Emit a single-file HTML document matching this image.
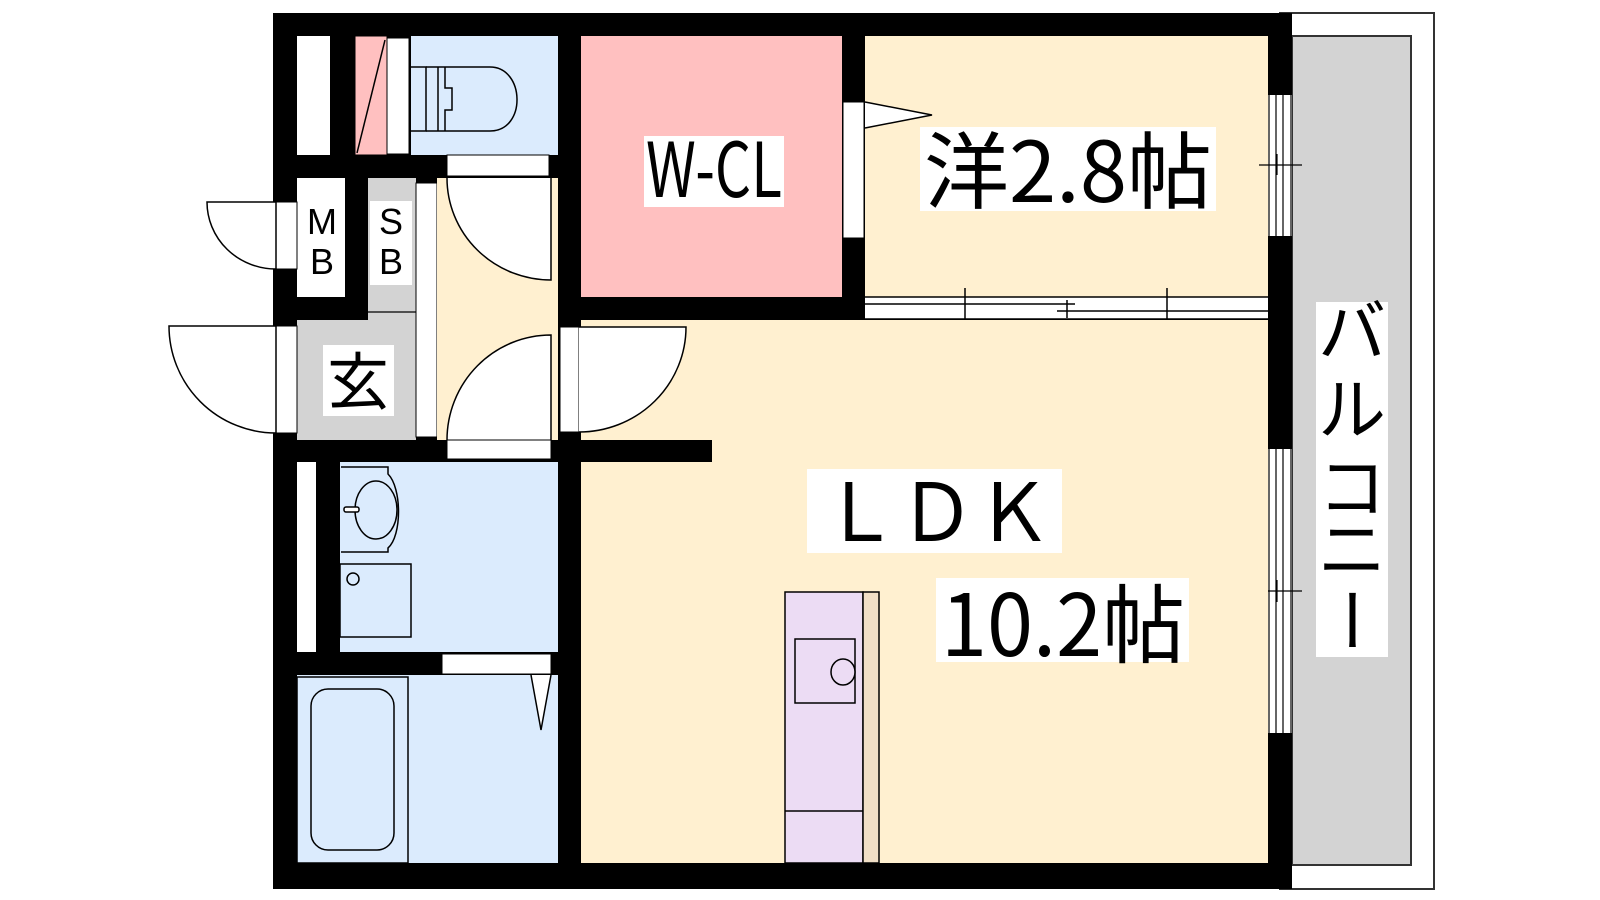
<!DOCTYPE html>
<html><head><meta charset="utf-8"><style>
html,body{margin:0;padding:0;background:#fff;}
svg{display:block;}
text{font-family:"Liberation Sans","Noto Sans CJK JP",sans-serif;}
.j{font-family:"Noto Sans CJK JP",sans-serif;}
</style></head><body>
<svg width="1600" height="900" viewBox="0 0 1600 900" xmlns="http://www.w3.org/2000/svg">
<!-- balcony -->
<rect x="1280" y="13" width="154" height="876" fill="#fff" stroke="#333" stroke-width="2"/>
<rect x="1292" y="36" width="119" height="829" fill="#d3d3d3" stroke="#333" stroke-width="2"/>
<!-- walls -->
<rect x="273" y="13" width="1019" height="876" fill="#000"/>
<!-- top left closet etc -->
<rect x="297" y="36" width="33" height="119" fill="#fff"/>
<rect x="355" y="36" width="32" height="119" fill="#ffc0c0" stroke="#000" stroke-width="1"/>
<line x1="357" y1="153" x2="385" y2="40" stroke="#000" stroke-width="1.5"/>
<rect x="387" y="38" width="22" height="116" fill="#fff" stroke="#000" stroke-width="1"/>
<rect x="411" y="36" width="147" height="119" fill="#dbebfd"/>
<!-- toilet -->
<g fill="none" stroke="#000" stroke-width="1.5">
<path d="M411,67 H426 V131 H411"/>
<path d="M426,67 H490 C525,67 527,131 490,131 H426"/>
<path d="M438,67 V131"/>
<path d="M445,67 V88 H452 V110 H445 V131"/>
</g>
<rect x="447" y="155" width="102" height="21" fill="#fff" stroke="#000" stroke-width="1"/>
<!-- W-CL -->
<rect x="581" y="36" width="261" height="261" fill="#ffc0c0"/>
<!-- western room -->
<rect x="865" y="36" width="403" height="261" fill="#fff0d0"/>
<!-- WCL door -->
<rect x="843" y="102" width="21" height="136" fill="#fff" stroke="#000" stroke-width="1"/>
<path d="M865,102 L932,115 L865,128" fill="#fff" stroke="#000" stroke-width="1.5"/>
<!-- sliding doors -->
<rect x="865" y="297" width="403" height="22" fill="#fff"/>
<g stroke="#000" stroke-width="1.5">
<line x1="865" y1="297" x2="1268" y2="297"/>
<line x1="865" y1="304" x2="1075" y2="304"/>
<line x1="1057" y1="311" x2="1268" y2="311"/>
<line x1="865" y1="319" x2="1268" y2="319"/>
<line x1="965" y1="288" x2="965" y2="330"/>
<line x1="1167" y1="288" x2="1167" y2="330"/>
<line x1="1067" y1="300" x2="1067" y2="318"/>
</g>
<!-- right windows -->
<g>
<rect x="1268" y="95" width="24" height="141" fill="#fff"/>
<rect x="1268" y="449" width="24" height="284" fill="#fff"/>
<g stroke="#000" stroke-width="1.2">
<line x1="1269" y1="95" x2="1269" y2="236"/><line x1="1276" y1="95" x2="1276" y2="236"/>
<line x1="1283" y1="95" x2="1283" y2="236"/><line x1="1291" y1="95" x2="1291" y2="236"/>
<line x1="1259" y1="165" x2="1302" y2="165"/><line x1="1277" y1="154" x2="1277" y2="175"/>
<line x1="1269" y1="449" x2="1269" y2="733"/><line x1="1276" y1="449" x2="1276" y2="733"/>
<line x1="1283" y1="449" x2="1283" y2="733"/><line x1="1291" y1="449" x2="1291" y2="733"/>
<line x1="1259" y1="591" x2="1302" y2="591"/><line x1="1277" y1="580" x2="1277" y2="602"/>
</g>
</g>
<!-- MB / SB -->
<rect x="297" y="178" width="48" height="119" fill="#fff"/>
<rect x="368" y="178" width="48" height="262" fill="#d3d3d3"/>
<line x1="368" y1="312" x2="416" y2="312" stroke="#000" stroke-width="1.2"/>
<rect x="370" y="201" width="42" height="84" fill="#fff"/>
<rect x="297" y="320" width="119" height="120" fill="#d3d3d3"/>
<rect x="416" y="183" width="21" height="254" fill="#fff" stroke="#000" stroke-width="1"/>
<!-- hallway -->
<rect x="437" y="178" width="121" height="262" fill="#fff0d0"/>
<path d="M447,178 A104,102 0 0 0 551,280 V178 Z" fill="#fff" stroke="none"/>
<path d="M447,178 A104,102 0 0 0 551,280 V178" fill="none" stroke="#000" stroke-width="1.5"/>
<path d="M447,440 A104,105 0 0 1 551,335 V440 Z" fill="#fff"/>
<path d="M447,440 A104,105 0 0 1 551,335 V440" fill="none" stroke="#000" stroke-width="1.5"/>
<!-- LDK -->
<rect x="581" y="320" width="687" height="543" fill="#fff0d0"/>
<rect x="581" y="440" width="131" height="22" fill="#000"/>
<!-- LDK door from hall -->
<rect x="560" y="327" width="19" height="105" fill="#fff" stroke="#000" stroke-width="1"/>
<path d="M579,327 H686 A107,105 0 0 1 579,432 Z" fill="#fff"/>
<path d="M579,327 H686 A107,105 0 0 1 579,432" fill="none" stroke="#000" stroke-width="1.5"/>
<rect x="447" y="440" width="104" height="19" fill="#fff" stroke="#000" stroke-width="1"/>
<!-- left doors -->
<rect x="276" y="202" width="21" height="67" fill="#fff" stroke="#000" stroke-width="1"/>
<path d="M207,202 H276 V269 A69,67 0 0 1 207,202 Z" fill="#fff" stroke="#000" stroke-width="1.5"/>
<rect x="276" y="326" width="21" height="107" fill="#fff" stroke="#000" stroke-width="1"/>
<path d="M169,326 H276 V433 A107,107 0 0 1 169,326 Z" fill="#fff" stroke="#000" stroke-width="1.5"/>
<!-- washroom -->
<rect x="297" y="462" width="19" height="190" fill="#fff"/>
<rect x="340" y="462" width="218" height="190" fill="#dbebfd"/>
<g fill="none" stroke="#000" stroke-width="1.5">
<path d="M341,467 H388 V474 C402,488 402,536 388,548 V552 H341"/>
<ellipse cx="376" cy="510" rx="21" ry="29"/>
<rect x="344" y="507" width="15" height="5" rx="2" fill="#fff"/>
<rect x="340" y="564" width="71" height="73"/>
<circle cx="353" cy="579" r="6"/>
</g>
<rect x="442" y="654" width="109" height="20" fill="#fff" stroke="#000" stroke-width="1"/>
<!-- bath -->
<rect x="297" y="675" width="261" height="188" fill="#dbebfd"/>
<rect x="297" y="677" width="111" height="186" fill="#dbebfd" stroke="#000" stroke-width="1.5"/>
<rect x="311" y="689" width="83" height="161" rx="17" fill="none" stroke="#000" stroke-width="1.5"/>
<path d="M531,675 L541,730 L551,675" fill="#fff" stroke="#000" stroke-width="1.5"/>
<!-- kitchen -->
<rect x="785" y="592" width="78" height="271" fill="#ecdcf4" stroke="#000" stroke-width="1.5"/>
<rect x="863" y="592" width="16" height="271" fill="#f1dfc6" stroke="#000" stroke-width="1.5"/>
<rect x="795" y="639" width="60" height="64" fill="none" stroke="#000" stroke-width="1.5"/>
<ellipse cx="843" cy="672" rx="12" ry="13" fill="#ecdcf4" stroke="#000" stroke-width="1.5"/>
<line x1="785" y1="811" x2="863" y2="811" stroke="#000" stroke-width="1.5"/>
<!-- labels -->
<text x="322" y="234" font-size="36" text-anchor="middle">M</text>
<text x="322" y="274" font-size="36" text-anchor="middle">B</text>
<text x="391" y="234" font-size="36" text-anchor="middle">S</text>
<text x="391" y="274" font-size="36" text-anchor="middle">B</text>
<rect x="323" y="345" width="71" height="71" fill="#fff"/>
<text x="358" y="404" font-size="62" text-anchor="middle" class="j">玄</text>
<rect x="644" y="136" width="140" height="71" fill="#fff"/>
<text x="646" y="197" font-size="76" textLength="136" lengthAdjust="spacingAndGlyphs" class="j">W-CL</text>
<rect x="920" y="127" width="296" height="84" fill="#fff"/>
<text x="924" y="202" font-size="84" textLength="288" lengthAdjust="spacingAndGlyphs" class="j">洋2.8帖</text>
<rect x="807" y="469" width="255" height="84" fill="#fff"/>
<text x="822" y="541" font-size="80" textLength="230" lengthAdjust="spacingAndGlyphs">ＬＤＫ</text>
<rect x="936" y="578" width="253" height="84" fill="#fff"/>
<text x="941" y="656" font-size="86" textLength="244" lengthAdjust="spacingAndGlyphs" class="j">10.2帖</text>
<rect x="1316" y="302" width="72" height="355" fill="#fff"/>
<g class="j" font-size="68" text-anchor="middle">
<text x="1352" y="356">バ</text>
<text x="1352" y="434">ル</text>
<text x="1352" y="512">コ</text>
<text x="1352" y="574">ニ</text>
<text x="1352" y="646" transform="rotate(90 1352 620)">ー</text>
</g>
</svg>
</body></html>
